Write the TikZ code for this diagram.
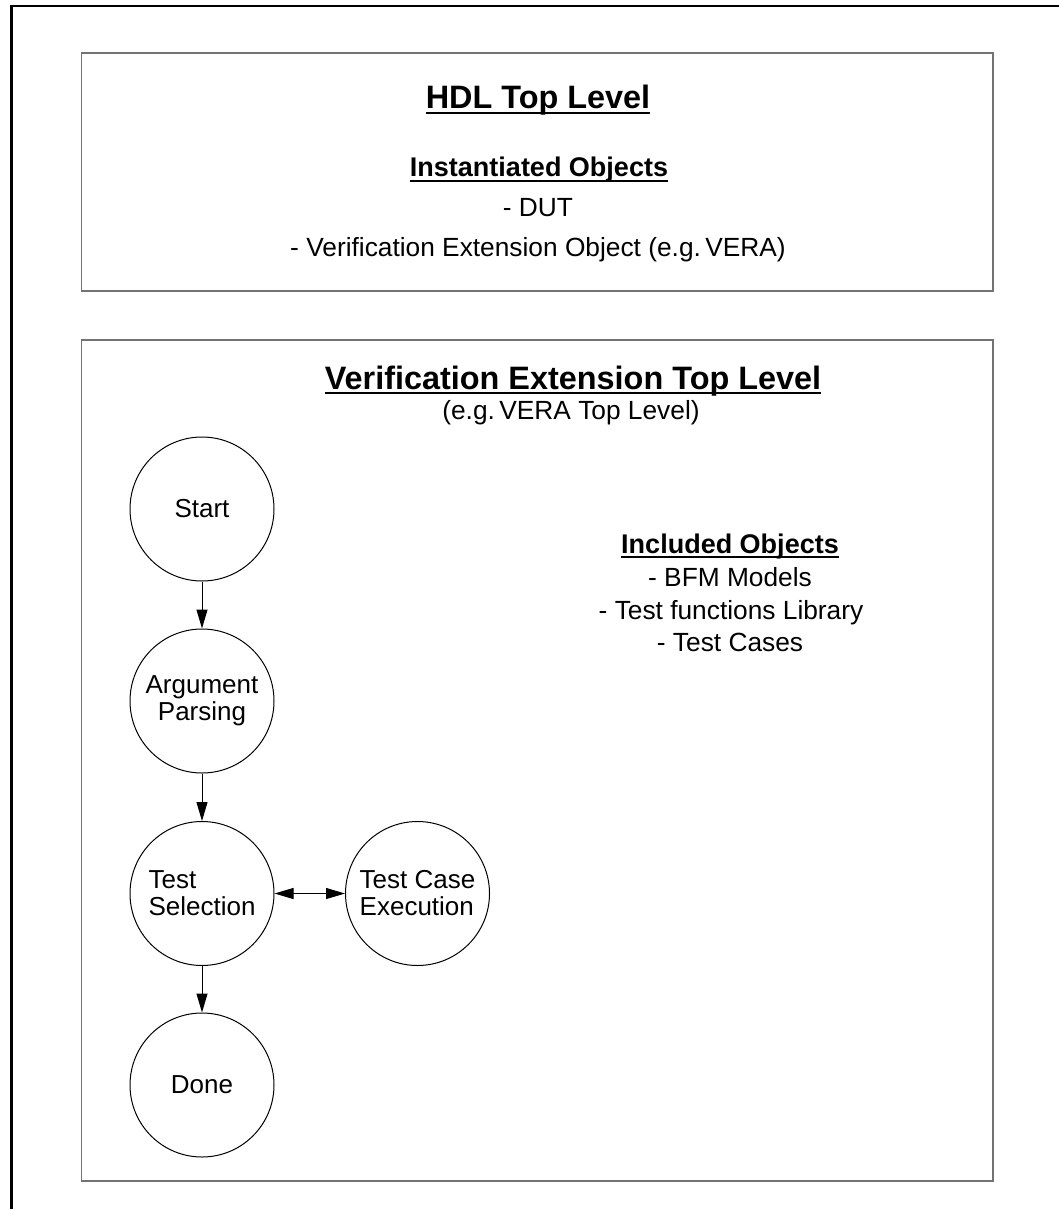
\documentclass[tikz,border=0pt]{standalone}
\usepackage{fontspec}
\setmainfont{Liberation Sans}
\usetikzlibrary{arrows.meta}
% text with a thick rule set just under its baseline
\newcommand\ulbox[1]{\setbox0\hbox{#1}\leavevmode\rlap{\rule[-5pt]{\wd0}{2pt}}\box0}
\begin{document}
\begin{tikzpicture}[x=1pt,y=-1pt,
  frame/.style={draw=black!55, line width=1.8pt},
  state/.style={circle, draw, line width=1pt, minimum size=144pt, inner sep=0pt,
    font=\fontsize{26}{27}\selectfont},
  heading/.style={anchor=base, inner sep=0pt, font=\bfseries\fontsize{32.4}{38}\selectfont},
  subhead/.style={anchor=base, inner sep=0pt, font=\bfseries\fontsize{27}{30}\selectfont},
  body/.style={anchor=base, inner sep=0pt, font=\fontsize{26.3}{30}\selectfont},
  tip/.tip={Triangle[length=19pt,width=11pt]},
  flow/.style={-tip, line width=1pt},
  bothways/.style={tip-tip, line width=1pt},
]
\useasboundingbox (0,0) rectangle (1059,1209);

% page frame
\draw[line width=2.5pt] (11.5,1209) -- (11.5,6) -- (1059,6);

% HDL top level box
\draw[frame] (81.5,53) rectangle (993,291);
\node[heading] (hdl) at (538,109) {\ulbox{HDL Top Level}};
\node[subhead] (inst) at (539,177) {\ulbox{Instantiated Objects}};
\node[body] (dut) at (538,216) {- DUT};
\node[body] (veo) at (538,256) {- Verification Extension Object (e.g.\,VERA)};

% verification extension top level box
\draw[frame] (81.5,340) rectangle (993,1181);
\node[heading] (vet) at (573,389) {\ulbox{Verification Extension Top Level}};
\node[body] (vera) at (571,419) {(e.g.\,VERA Top Level)};

\node[subhead] (incl) at (730,553) {\ulbox{Included Objects}};
\node[body] (bfm) at (730,586) {- BFM Models};
\node[body] (lib) at (731,619) {- Test functions Library};
\node[body] (cases) at (730,651) {- Test Cases};

% state flow
\node[state] (start) at (202,509) {Start};
\node[state, align=center] (parse) at (202,701) {Argument\\Parsing};
\node[state, align=left] (sel) at (202,893.5) {Test\\Selection};
\node[state, align=left] (exec) at (417.5,893.5) {Test Case\\Execution};
\node[state] (done) at (202,1085) {Done};

\draw[flow] (start) -- (parse);
\draw[flow] (parse) -- (sel);
\draw[bothways] (sel) -- (exec);
\draw[flow] (sel) -- (done);
\end{tikzpicture}
\end{document}
